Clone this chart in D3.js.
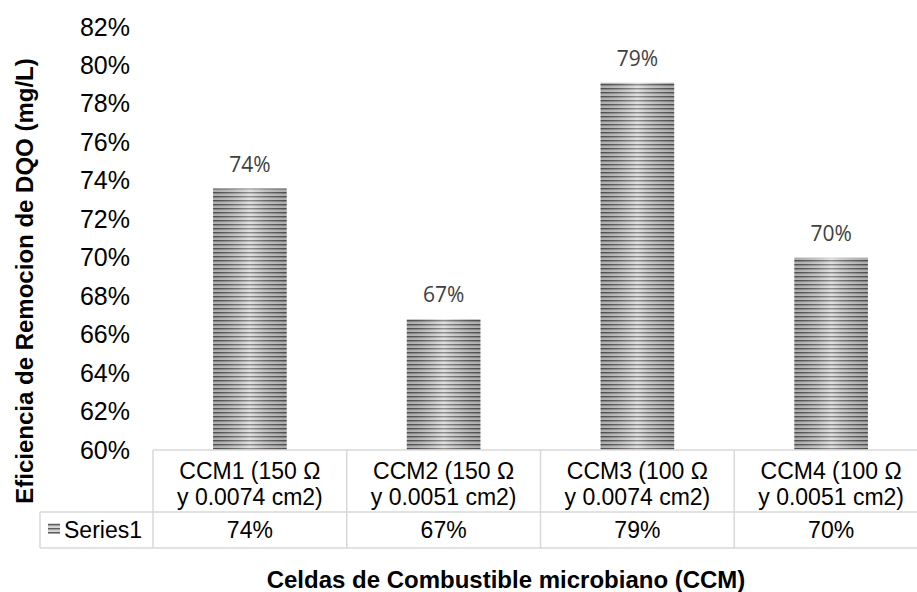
<!DOCTYPE html>
<html>
<head>
<meta charset="utf-8">
<script src="https://cdn.jsdelivr.net/npm/d3@7"></script>
<style>
  body { margin: 0; background: #fff; }
  svg { display: block; }
</style>
</head>
<body>
<div id="chart"></div>
<script>
// data
var categories = ["CCM1", "CCM2", "CCM3", "CCM4"];
var categoryLines = [
    ["CCM1 (150 Ω", "y 0.0074 cm2)"],
    ["CCM2 (150 Ω", "y 0.0051 cm2)"],
    ["CCM3 (100 Ω", "y 0.0074 cm2)"],
    ["CCM4 (100 Ω", "y 0.0051 cm2)"]
];
var values = [73.6, 66.8, 79.1, 70.0];
var seriesName = "Series1";
var yTicks = [60, 62, 64, 66, 68, 70, 72, 74, 76, 78, 80, 82];

var svgWidth = 917;
var svgHeight = 592;

var plotLeft = 153, plotRight = 928, plotTop = 27, plotBottom = 450;
var tableLeft = 40, row1Bottom = 512, tableBottom = 548;

var svg = d3.select("#chart")
    .append("svg")
    .attr("width", svgWidth)
    .attr("height", svgHeight);

// stripe pattern + shading
var defs = svg.append("defs");
var pat = defs.append("pattern")
    .attr("id", "stripes")
    .attr("patternUnits", "userSpaceOnUse")
    .attr("width", 8)
    .attr("height", 4);
pat.append("rect").attr("width", 8).attr("height", 4).attr("fill", "#d6d6d6");
pat.append("rect").attr("y", 0).attr("width", 8).attr("height", 1.3).attr("fill", "#5e5e5e");
pat.append("rect").attr("y", 1.3).attr("width", 8).attr("height", 0.8).attr("fill", "#9a9a9a");

var grad = defs.append("linearGradient")
    .attr("id", "shade")
    .attr("x1", "0").attr("x2", "1").attr("y1", "0").attr("y2", "0");
grad.append("stop").attr("offset", "0").attr("stop-color", "#000").attr("stop-opacity", 0.18);
grad.append("stop").attr("offset", "0.5").attr("stop-color", "#fff").attr("stop-opacity", 0.3);
grad.append("stop").attr("offset", "1").attr("stop-color", "#000").attr("stop-opacity", 0.18);

var x = d3.scaleBand()
    .domain(categories)
    .range([plotLeft, plotRight])
    .paddingInner(0.62)
    .paddingOuter(0.31);

var xCol = d3.scaleBand()
    .domain(categories)
    .range([plotLeft, plotRight]);

var y = d3.scaleLinear()
    .domain([60, 82])
    .range([plotBottom, plotTop]);

var pct = function (v) { return d3.format(".0f")(v) + "%"; };

// y axis
var yAxis = d3.axisLeft(y)
    .tickValues(yTicks)
    .tickSize(0)
    .tickPadding(23)
    .tickFormat(function (d) { return d + "%"; });

var yg = svg.append("g")
    .attr("transform", `translate(${plotLeft}, 0)`)
    .call(yAxis);
yg.select(".domain").remove();
yg.selectAll("text")
    .attr("fill", "#000")
    .style("font-family", "'Liberation Sans', Arial, sans-serif")
    .style("font-size", "25px");

// bars
var bars = svg.selectAll(".bar")
    .data(values)
    .enter()
    .append("g")
    .attr("class", "bar");

bars.append("rect")
    .attr("x", (d, i) => x(categories[i]))
    .attr("y", d => y(d))
    .attr("width", x.bandwidth())
    .attr("height", d => y(60) - y(d))
    .attr("fill", "url(#stripes)");

bars.append("rect")
    .attr("x", (d, i) => x(categories[i]))
    .attr("y", d => y(d))
    .attr("width", x.bandwidth())
    .attr("height", d => y(60) - y(d))
    .attr("fill", "url(#shade)");

// data labels
bars.append("text")
    .attr("x", (d, i) => x(categories[i]) + x.bandwidth() / 2)
    .attr("y", d => y(d) - 17)
    .attr("text-anchor", "middle")
    .attr("fill", "#404040")
    .style("font-family", "'Open Sans', sans-serif")
    .style("font-size", "21px")
    .text(d => pct(d));

// data table
var lineColor = "#d9d9d9";
var table = svg.append("g");

table.append("line")
    .attr("x1", plotLeft).attr("x2", svgWidth)
    .attr("y1", plotBottom).attr("y2", plotBottom);
table.append("line")
    .attr("x1", tableLeft).attr("x2", svgWidth)
    .attr("y1", row1Bottom).attr("y2", row1Bottom);
table.append("line")
    .attr("x1", tableLeft).attr("x2", svgWidth)
    .attr("y1", tableBottom).attr("y2", tableBottom);
table.append("line")
    .attr("x1", tableLeft).attr("x2", tableLeft)
    .attr("y1", row1Bottom).attr("y2", tableBottom);
table.selectAll(".vline")
    .data(categories)
    .enter()
    .append("line")
    .attr("class", "vline")
    .attr("x1", d => xCol(d)).attr("x2", d => xCol(d))
    .attr("y1", plotBottom).attr("y2", tableBottom);
table.selectAll("line")
    .attr("stroke", lineColor)
    .attr("stroke-width", 1.5);

var cellFont = "'Liberation Sans', Arial, sans-serif";

table.selectAll(".cat")
    .data(categoryLines)
    .enter()
    .append("text")
    .attr("class", "cat")
    .attr("text-anchor", "middle")
    .attr("fill", "#000")
    .style("font-family", cellFont)
    .style("font-size", "23px")
    .each(function (lines, i) {
        var cx = xCol(categories[i]) + xCol.bandwidth() / 2;
        d3.select(this).selectAll("tspan")
            .data(lines)
            .enter()
            .append("tspan")
            .attr("x", cx)
            .attr("y", (l, j) => 479 + j * 26)
            .text(l => l);
    });

table.selectAll(".val")
    .data(values)
    .enter()
    .append("text")
    .attr("class", "val")
    .attr("x", (d, i) => xCol(categories[i]) + xCol.bandwidth() / 2)
    .attr("y", 538)
    .attr("text-anchor", "middle")
    .attr("fill", "#000")
    .style("font-family", cellFont)
    .style("font-size", "23px")
    .text(d => pct(d));

// legend key + series name
table.append("rect")
    .attr("x", 48).attr("y", 523)
    .attr("width", 12).attr("height", 11)
    .attr("fill", "url(#stripes)");
table.append("text")
    .attr("x", 64)
    .attr("y", 538)
    .attr("fill", "#000")
    .style("font-family", cellFont)
    .style("font-size", "23px")
    .text(seriesName);

// axis titles
svg.append("text")
    .attr("transform", "rotate(-90)")
    .attr("x", -281)
    .attr("y", 33)
    .attr("text-anchor", "middle")
    .attr("fill", "#000")
    .style("font-family", cellFont)
    .style("font-size", "24px")
    .style("font-weight", "bold")
    .text("Eficiencia de Remocion de DQO (mg/L)");

svg.append("text")
    .attr("x", 506)
    .attr("y", 588)
    .attr("text-anchor", "middle")
    .attr("fill", "#000")
    .style("font-family", cellFont)
    .style("font-size", "24px")
    .style("font-weight", "bold")
    .text("Celdas de Combustible microbiano (CCM)");
</script>
</body>
</html>
